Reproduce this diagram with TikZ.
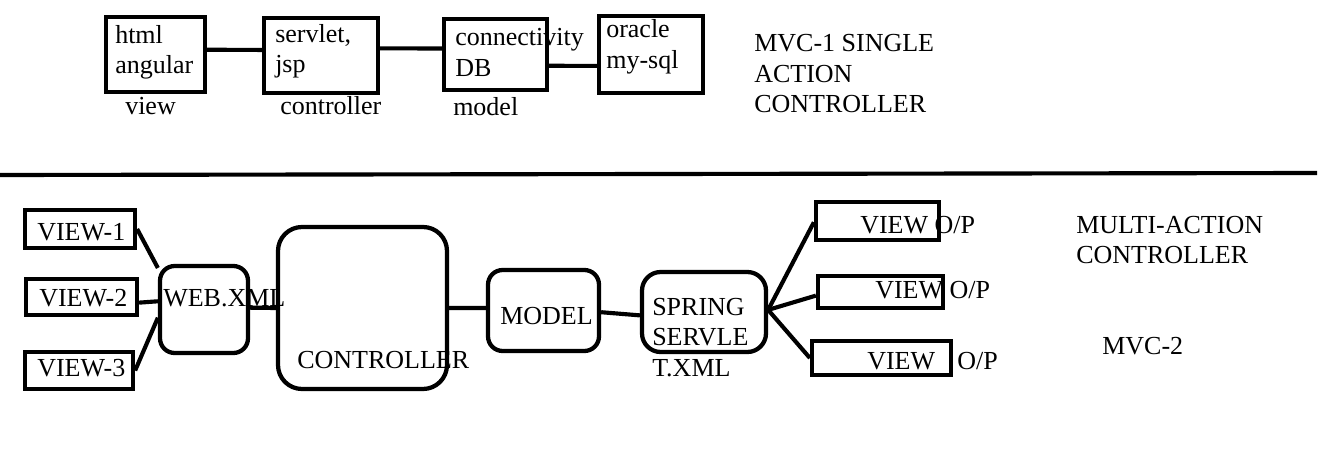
\documentclass[tikz,border=0pt]{standalone}
\usepackage{fontspec}
\setmainfont{Liberation Serif}
\newfontfamily\tnrfont{Liberation Serif}
\usetikzlibrary{fit,calc}
\begin{document}
\begin{tikzpicture}[x=0.75pt,y=-0.75pt,
  box/.style={draw,line width=3.2pt,inner sep=0pt,rectangle},
  rbox/.style={draw,line width=3.2pt,inner sep=0pt,rectangle,rounded corners=11pt},
  cbox/.style={draw,line width=3.2pt,inner sep=0pt,rectangle,rounded corners=18pt},
  conn/.style={line width=3.1pt},
  txt/.style={anchor=base west,inner sep=0pt,font=\tnrfont\fontsize{19.5pt}{23pt}\selectfont}]
\useasboundingbox (0,0) rectangle (1325,460);
% ---------- top: MVC-1 ----------
\node[box,fit={(106,17) (205,92)}] (b1) {};
\node[box,fit={(264,18) (378,93)}] (b2) {};
\node[box,fit={(444,19) (547,90)}] (b3) {};
\node[box,fit={(599,16) (703,93)}] (b4) {};
\draw[conn] ($(b1.north east)!0.44!(b1.south east)$) -- ($(b2.north west)!0.43!(b2.south west)$);
\draw[conn] ($(b2.north east)!0.41!(b2.south east)$) -- ($(b3.north west)!0.42!(b3.south west)$);
\draw[conn] ($(b3.north east)!0.65!(b3.south east)$) -- ($(b4.north west)!0.64!(b4.south west)$);
\node[txt] (t1a) at (115,44) {html};
\node[txt] (t1b) at (115,74) {angular};
\node[txt] (t1c) at (125,114) {view};
\node[txt] (t2a) at (275,43) {servlet,};
\node[txt] (t2b) at (275,73) {jsp};
\node[txt] (t2c) at (280,114) {controller};
\node[txt] (t3a) at (455,46) {connectivity};
\node[txt] (t3b) at (455,77) {DB};
\node[txt] (t3c) at (453,116) {model};
\node[txt] (t4a) at (606,38) {oracle};
\node[txt] (t4b) at (606,69) {my-sql};
\node[txt] (m1a) at (754,52) {MVC-1 SINGLE};
\node[txt] (m1b) at (754,83) {ACTION};
\node[txt] (m1c) at (754,113) {CONTROLLER};
% ---------- divider ----------
\coordinate (dl) at (0,175);
\coordinate (dr) at (1317,173);
\draw[conn] (dl) -- (dr);
% ---------- bottom: MVC-2 ----------
\node[box,fit={(25,210) (135,248)}] (v1) {};
\node[box,fit={(26,279) (137,315)}] (v2) {};
\node[box,fit={(25,352) (133,389)}] (v3) {};
\node[rbox,fit={(160,266) (248,353)}] (web) {};
\node[cbox,fit={(278,227) (447,389)}] (ctrl) {};
\node[rbox,fit={(488,270) (599,351)}] (model) {};
\node[rbox,rounded corners=14pt,fit={(642,272) (766,352)}] (spring) {};
\node[box,fit={(816,202) (939,240)}] (o1) {};
\node[box,fit={(818,276) (943,308)}] (o2) {};
\node[box,fit={(812,341) (951,375)}] (o3) {};
\draw[conn] (v1.east) -- (web.138);
\draw[conn] ($(v2.north east)!0.64!(v2.south east)$) -- ($(web.north west)!0.41!(web.south west)$);
\draw[conn] (v3.east) -- ($(web.north west)!0.59!(web.south west)$);
\draw[conn] ($(web.north east)!0.48!(web.south east)$) -- (ctrl.west);
\draw[conn] (ctrl.east) -- ($(model.north west)!0.47!(model.south west)$);
\draw[conn] ($(model.north east)!0.52!(model.south east)$) -- ($(spring.north west)!0.54!(spring.south west)$);
\coordinate (sp) at ($(spring.north east)!0.475!(spring.south east)$);
\draw[conn] (sp) -- ($(o1.north west)!0.53!(o1.south west)$);
\draw[conn] (sp) -- ($(o2.north west)!0.6!(o2.south west)$);
\draw[conn] (sp) -- (o3.west);
\node[txt] (tv1) at (37,240) {VIEW-1};
\node[txt] (tv2) at (39,306) {VIEW-2};
\node[txt] (tv3) at (37,376) {VIEW-3};
\node[txt] (tweb) at (163,306) {WEB.XML};
\node[txt] (tctrl) at (297,368) {CONTROLLER};
\node[txt] (tmodel) at (500,324) {MODEL};
\node[txt] (ts1) at (652,315) {SPRING};
\node[txt] (ts2) at (652,345) {SERVLE};
\node[txt] (ts3) at (652,376) {T.XML};
\node[txt] (to1) at (860,233) {VIEW O/P};
\node[txt] (to2) at (875,298) {VIEW O/P};
\node[txt] (to3a) at (867,369) {VIEW};
\node[txt] (to3b) at (957,369) {O/P};
\node[txt] (m2a) at (1076,233) {MULTI-ACTION};
\node[txt] (m2b) at (1076,263) {CONTROLLER};
\node[txt] (m2c) at (1102,354) {MVC-2};
\end{tikzpicture}
\end{document}
